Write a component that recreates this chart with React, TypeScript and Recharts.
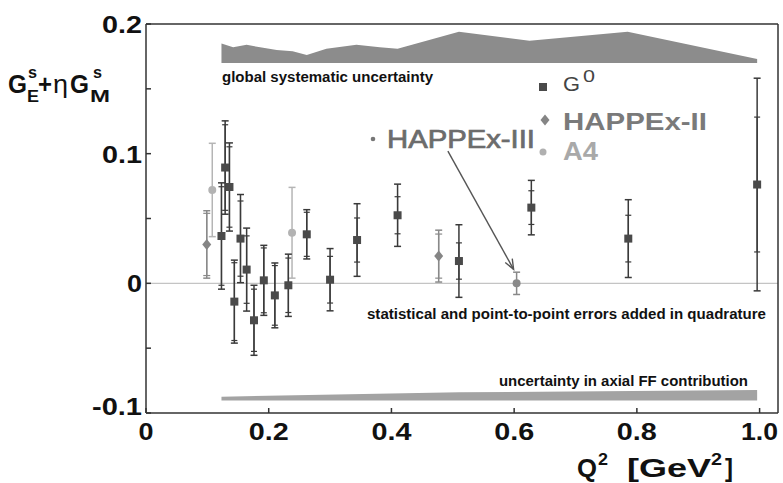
import React from "react";
import {
  ComposedChart,
  Scatter,
  Area,
  XAxis,
  YAxis,
  ErrorBar,
  ReferenceLine,
  Customized,
} from "recharts";

// G0 (squares)
const g0Q = [0.123, 0.129, 0.136, 0.144, 0.154, 0.164, 0.176, 0.192, 0.21, 0.232, 0.262, 0.3, 0.344, 0.41, 0.51, 0.628, 0.786, 0.996];
const g0Val = [0.0365, 0.0893, 0.0743, -0.0141, 0.0345, 0.0106, -0.0285, 0.0023, -0.0093, -0.0015, 0.0378, 0.0028, 0.0334, 0.0525, 0.0172, 0.0584, 0.0345, 0.0762];
const g0Tot = [0.041, 0.036, 0.034, 0.032, 0.034, 0.032, 0.027, 0.027, 0.025, 0.024, 0.019, 0.024, 0.028, 0.024, 0.028, 0.021, 0.03, 0.082];
const g0Stat = [0.038, 0.033, 0.031, 0.03, 0.029, 0.026, 0.024, 0.025, 0.023, 0.021, 0.017, 0.018, 0.017, 0.0143, 0.014, 0.013, 0.018, 0.052];

// HAPPEx-II (diamonds)
const h2Q = [0.099, 0.477];
const h2Val = [0.03, 0.021];
const h2Tot = [0.026, 0.02];
const h2Stat = [0.024, 0.017];

// A4 (light circles)
const a4Q = [0.108, 0.238];
const a4Val = [0.072, 0.039];
const a4Tot = [0.036, 0.035];

// HAPPEx-III
const h3Q = [0.604];
const h3Val = [0.0];
const h3Tot = [0.0086];

// global systematic band
const sysQ = [0.123, 0.142, 0.164, 0.186, 0.213, 0.239, 0.262, 0.294, 0.343, 0.381, 0.41, 0.51, 0.625, 0.785, 0.996];
const sysHi = [0.185, 0.182, 0.184, 0.182, 0.18, 0.179, 0.176, 0.181, 0.184, 0.182, 0.181, 0.194, 0.187, 0.194, 0.173];
const sysLo = 0.17;

// axial FF band
const axQ = [0.123, 0.51, 0.996];
const axHi = [-0.0874, -0.084, -0.0823];
const axLo = -0.0903;

const xTicks = [0, 0.2, 0.4, 0.6, 0.8, 1.0];
const xTickText = ["0", "0.2", "0.4", "0.6", "0.8", "1.0"];
const yTicks = [-0.1, -0.05, 0, 0.05, 0.1, 0.15, 0.2];
const yTickText = ["-0.1", "", "0", "", "0.1", "", "0.2"];

const g0Data = g0Q.map((q, i) => ({ q, v: g0Val[i], tot: g0Tot[i], stat: g0Stat[i] }));
const h2Data = h2Q.map((q, i) => ({ q, v: h2Val[i], tot: h2Tot[i], stat: h2Stat[i] }));
const a4Data = a4Q.map((q, i) => ({ q, v: a4Val[i], tot: a4Tot[i] }));
const h3Data = h3Q.map((q, i) => ({ q, v: h3Val[i], tot: h3Tot[i] }));
const sysData = sysQ.map((q, i) => ({ q, band: [sysLo, sysHi[i]] }));
const axData = axQ.map((q, i) => ({ q, band: [axLo, axHi[i]] }));

const W = 783;
const H = 483;
const X_MAX = 1.03;
const PL = 146, PT = 24, PR = 778, PB = 413;
const sx = (q: number) => PL + (q / X_MAX) * (PR - PL);
const sy = (v: number) => PT + ((0.2 - v) / 0.3) * (PB - PT);

const FONT = "'Liberation Sans', Arial, Helvetica, sans-serif";
const FRAME = "#333";

const Square = (p: any) => <rect x={p.cx - 4} y={p.cy - 4} width={8} height={8} fill="#4a4a4a" />;
const Diamond = (p: any) => (
  <polygon points={`${p.cx},${p.cy - 5.5} ${p.cx + 4.5},${p.cy} ${p.cx},${p.cy + 5.5} ${p.cx - 4.5},${p.cy}`} fill="#858585" />
);
const LightDot = (p: any) => <circle cx={p.cx} cy={p.cy} r={4} fill="#b3b3b3" />;
const GrayDot = (p: any) => <circle cx={p.cx} cy={p.cy} r={4} fill="#8a8a8a" />;

const YTick = (p: any) => {
  const i = yTicks.indexOf(p.payload.value);
  const t = yTickText[i];
  if (!t) return null;
  const lens: Record<string, number> = { "0.2": 40, "0.1": 40, "0": 15, "-0.1": 50 };
  const dy = t === "-0.1" ? 2 : 9;
  return (
    <text x={142} y={p.y + dy} textAnchor="end" fontFamily={FONT} fontWeight="bold" fontSize={24} fill="#111"
      textLength={lens[t]} lengthAdjust="spacingAndGlyphs">
      {t}
    </text>
  );
};

const XTick = (p: any) => {
  const i = xTicks.indexOf(p.payload.value);
  const t = xTickText[i];
  const len = t === "0" ? 15 : t === "1.0" ? 37 : 40;
  return (
    <text x={p.x} y={440} textAnchor="middle" fontFamily={FONT} fontWeight="bold" fontSize={24} fill="#111"
      textLength={len} lengthAdjust="spacingAndGlyphs">
      {t}
    </text>
  );
};

const Annotations = () => {
  // arrow from HAPPEx-III label to its point
  const x1 = sx(0.492), y1 = sy(0.1019);
  const x2 = sx(h3Q[0]) - 3, y2 = sy(h3Val[0]) - 14;
  const dx = x2 - x1, dy = y2 - y1;
  const len = Math.hypot(dx, dy);
  const ux = dx / len, uy = dy / len;
  const bx = x2 - 10 * ux, by = y2 - 10 * uy;
  const nx = -uy, ny = ux;
  const small = { fontFamily: FONT, fontWeight: "bold" as const, fontSize: 14, fill: "#111" };
  return (
    <g>
      <text x={222} y={82} {...small} textLength={211} lengthAdjust="spacingAndGlyphs">global systematic uncertainty</text>
      <text x={367} y={319} {...small} textLength={399} lengthAdjust="spacingAndGlyphs">statistical and point-to-point errors added in quadrature</text>
      <text x={499} y={386} {...small} textLength={249} lengthAdjust="spacingAndGlyphs">uncertainty in axial FF contribution</text>

      {/* legend */}
      <rect x={539} y={83} width={8} height={8} fill="#4a4a4a" />
      <text x={563} y={91} fontFamily={FONT} fontSize={20} fill="#444" textLength={17} lengthAdjust="spacingAndGlyphs">G</text>
      <text x={583} y={82} fontFamily={FONT} fontSize={16} fill="#444" textLength={12} lengthAdjust="spacingAndGlyphs">0</text>
      <polygon points="545,114.5 549.5,120 545,125.5 540.5,120" fill="#858585" />
      <text x={563} y={130} fontFamily={FONT} fontWeight="bold" fontSize={24} fill="#7a7a7a" textLength={144} lengthAdjust="spacingAndGlyphs">HAPPEx-II</text>
      <circle cx={543} cy={152} r={3.5} fill="#b0b0b0" />
      <text x={563} y={160} fontFamily={FONT} fontWeight="bold" fontSize={25} fill="#a9a9a9" textLength={35} lengthAdjust="spacingAndGlyphs">A4</text>

      {/* HAPPEx-III label */}
      <circle cx={373} cy={139} r={2.3} fill="#777" />
      <text x={387} y={148} fontFamily={FONT} fontSize={25} fill="#6c6c6c" stroke="#6c6c6c" strokeWidth={0.7}
        textLength={148} lengthAdjust="spacingAndGlyphs">HAPPEx-III</text>
      <line x1={x1} y1={y1} x2={x2} y2={y2} stroke="#555" strokeWidth={1.4} />
      <polyline points={`${bx + 4 * nx},${by + 4 * ny} ${x2},${y2} ${bx - 4 * nx},${by - 4 * ny}`} fill="none" stroke="#555" strokeWidth={1.4} />

      {/* y axis title */}
      <g fontFamily={FONT} fill="#111">
        <text x={8} y={93} fontWeight="bold" fontSize={25} textLength={19} lengthAdjust="spacingAndGlyphs">G</text>
        <text x={28} y={78} fontWeight="bold" fontSize={16} textLength={9} lengthAdjust="spacingAndGlyphs">s</text>
        <text x={27} y={102} fontWeight="bold" fontSize={17} textLength={12} lengthAdjust="spacingAndGlyphs">E</text>
        <text x={38} y={93} fontWeight="bold" fontSize={25} textLength={14} lengthAdjust="spacingAndGlyphs">+</text>
        <text x={53} y={93} fontSize={25} textLength={15} lengthAdjust="spacingAndGlyphs">η</text>
        <text x={70} y={93} fontWeight="bold" fontSize={25} textLength={19} lengthAdjust="spacingAndGlyphs">G</text>
        <text x={93} y={78} fontWeight="bold" fontSize={16} textLength={9} lengthAdjust="spacingAndGlyphs">s</text>
        <text x={90} y={102} fontWeight="bold" fontSize={17} textLength={20} lengthAdjust="spacingAndGlyphs">M</text>
      </g>

      {/* x axis title */}
      <g fontFamily={FONT} fontWeight="bold" fill="#111">
        <text x={577} y={477} fontSize={26} textLength={20} lengthAdjust="spacingAndGlyphs">Q</text>
        <text x={598} y={465} fontSize={17} textLength={10} lengthAdjust="spacingAndGlyphs">2</text>
        <text x={627} y={477} fontSize={26} textLength={84} lengthAdjust="spacingAndGlyphs">[GeV</text>
        <text x={711} y={465} fontSize={17} textLength={11} lengthAdjust="spacingAndGlyphs">2</text>
        <text x={725} y={477} fontSize={26} textLength={8} lengthAdjust="spacingAndGlyphs">]</text>
      </g>
    </g>
  );
};

export default function App() {
  return (
    <div style={{ position: "absolute", left: 0, top: 0, width: W, height: H, background: "#fff" }}>
      <ComposedChart width={W} height={H} margin={{ top: 23, right: 4, bottom: 40, left: 86 }}>
        <XAxis xAxisId={0} dataKey="q" type="number" domain={[0, X_MAX]} ticks={xTicks} allowDataOverflow
          height={30} tickSize={-5} tickMargin={0} stroke={FRAME} strokeWidth={1.5} tick={<XTick />} interval={0} />
        <XAxis xAxisId="top" orientation="top" type="number" domain={[0, X_MAX]} ticks={[0.2, 0.4, 0.6, 0.8, 1.0]}
          height={1} tickSize={-5} tick={false} stroke={FRAME} strokeWidth={1.5} />
        <YAxis yAxisId={0} type="number" domain={[-0.1, 0.2]} ticks={yTicks} allowDataOverflow width={60}
          tickSize={-5} tickMargin={0} stroke={FRAME} strokeWidth={1.5} tick={<YTick />} interval={0} />
        <YAxis yAxisId="right" orientation="right" type="number" domain={[-0.1, 0.2]} ticks={yTicks} width={1}
          tickSize={-5} tick={false} stroke={FRAME} strokeWidth={1.5} />

        <ReferenceLine y={0} stroke="#c4c4c4" strokeWidth={1.3} />

        <Area data={sysData} dataKey="band" type="linear" fill="#8c8c8c" fillOpacity={1} stroke="none" isAnimationActive={false} />
        <Area data={axData} dataKey="band" type="linear" fill="#a3a3a3" fillOpacity={1} stroke="none" isAnimationActive={false} />

        <Scatter name="A4" data={a4Data} dataKey="v" shape={LightDot} isAnimationActive={false}>
          <ErrorBar dataKey="tot" direction="y" width={3.5} stroke="#b5b5b5" strokeWidth={1.5} />
        </Scatter>
        <Scatter name="HAPPEx-II" data={h2Data} dataKey="v" shape={Diamond} isAnimationActive={false}>
          <ErrorBar dataKey="tot" direction="y" width={3.5} stroke="#8a8a8a" strokeWidth={1.5} />
          <ErrorBar dataKey="stat" direction="y" width={3.5} stroke="#8a8a8a" strokeWidth={1.2} />
        </Scatter>
        <Scatter name="HAPPEx-III" data={h3Data} dataKey="v" shape={GrayDot} isAnimationActive={false}>
          <ErrorBar dataKey="tot" direction="y" width={3.5} stroke="#888" strokeWidth={1.5} />
        </Scatter>
        <Scatter name="G0" data={g0Data} dataKey="v" shape={Square} isAnimationActive={false}>
          <ErrorBar dataKey="tot" direction="y" width={3.5} stroke="#3a3a3a" strokeWidth={1.5} />
          <ErrorBar dataKey="stat" direction="y" width={3} stroke="#3a3a3a" strokeWidth={1.2} />
        </Scatter>

        <Customized component={<Annotations />} />
      </ComposedChart>
    </div>
  );
}
